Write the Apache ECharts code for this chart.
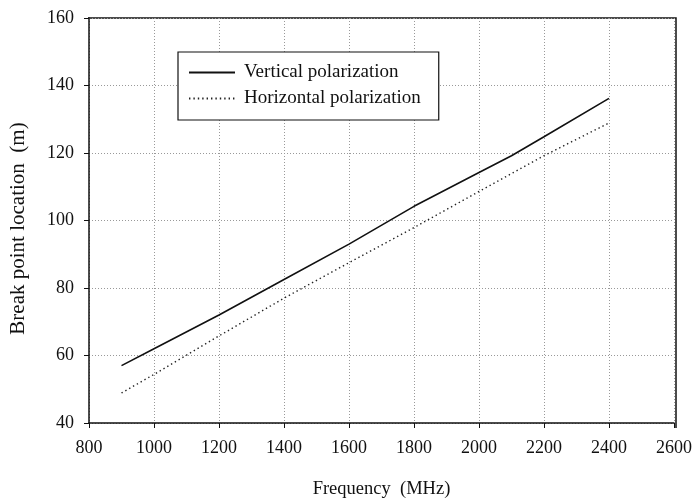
<!DOCTYPE html>
<html>
<head>
<meta charset="utf-8">
<script src="https://cdn.jsdelivr.net/npm/echarts@6/dist/echarts.min.js"></script>
<style>
  html, body { margin: 0; padding: 0; background: #fff; }
  #chart { width: 695px; height: 504px; }
</style>
</head>
<body>
<div id="chart"></div>
<script>
// Frequency samples (MHz) and break point location (m) for each polarization
var frequencies = [900, 1000, 1200, 1400, 1600, 1800, 2000, 2100, 2200, 2400];
var verticalPol = [57, 62, 72, 82.5, 93, 104.2, 114.2, 119.2, 124.8, 136.2];
var horizontalPol = [48.9, 54.4, 65.8, 77, 87.5, 97.9, 108.6, 113.9, 119.2, 128.9];
var seriesNames = ['Vertical polarization', 'Horizontal polarization'];

var FONT = '"Liberation Serif", "Times New Roman", serif';

function pairs(xs, ys) {
  return xs.map(function (x, i) { return [x, ys[i]]; });
}

var chart = echarts.init(document.getElementById('chart'), null, { renderer: 'canvas' });

chart.setOption({
  backgroundColor: '#ffffff',
  animation: false,
  grid: { left: 88, right: 19, top: 18, bottom: 76, show: false },
  legend: {
    left: 178,
    top: 52,
    orient: 'vertical',
    data: seriesNames,
    backgroundColor: '#fff',
    borderColor: '#111',
    borderWidth: 1.2,
    padding: [11, 18, 12, 10],
    itemGap: 7,
    itemWidth: 46,
    itemHeight: 20,
    itemStyle: { opacity: 0 },
    textStyle: { fontFamily: FONT, fontSize: 19, color: '#111', padding: [0, 0, 0, 4] }
  },
  xAxis: {
    type: 'value',
    min: 800,
    max: 2600,
    interval: 200,
    name: 'Frequency  (MHz)',
    nameLocation: 'middle',
    nameGap: 57,
    nameTextStyle: { fontFamily: FONT, fontSize: 18.5, color: '#111' },
    axisLine: { show: true, onZero: false, lineStyle: { color: '#111', width: 1.5 } },
    axisTick: { show: true, length: 5, lineStyle: { color: '#111' } },
    axisLabel: {
      fontFamily: FONT, fontSize: 18, color: '#111', margin: 16,
      formatter: function (v) { return String(v); }
    },
    splitLine: { show: true, lineStyle: { color: '#999', type: [1, 2], width: 1 } }
  },
  yAxis: {
    type: 'value',
    min: 40,
    max: 160,
    interval: 20,
    name: 'Break point location  (m)',
    nameLocation: 'middle',
    nameGap: 60,
    nameTextStyle: { fontFamily: FONT, fontSize: 21, color: '#111', padding: [0, 16, 0, 0] },
    axisLine: { show: true, onZero: false, lineStyle: { color: '#111', width: 1.5 } },
    axisTick: { show: true, length: 5, lineStyle: { color: '#111' } },
    axisLabel: {
      fontFamily: FONT, fontSize: 18, color: '#111', margin: 15,
      formatter: function (v) { return String(v); }
    },
    splitLine: { show: true, lineStyle: { color: '#999', type: [1, 2], width: 1 } }
  },
  graphic: [
    // right and top frame edges of the plot area
    {
      type: 'polyline',
      silent: true,
      shape: { points: [[88, 18], [676, 18], [676, 428]] },
      style: { stroke: '#111', lineWidth: 1.5, fill: null }
    }
  ],
  series: [
    {
      name: seriesNames[0],
      type: 'line',
      data: pairs(frequencies, verticalPol),
      symbol: 'none',
      color: '#111',
      lineStyle: { color: '#111', width: 1.6, type: 'solid' }
    },
    {
      name: seriesNames[1],
      type: 'line',
      data: pairs(frequencies, horizontalPol),
      symbol: 'none',
      color: '#222',
      lineStyle: { color: '#222', width: 1.4, type: [1.4, 3] }
    }
  ]
});
</script>
</body>
</html>
